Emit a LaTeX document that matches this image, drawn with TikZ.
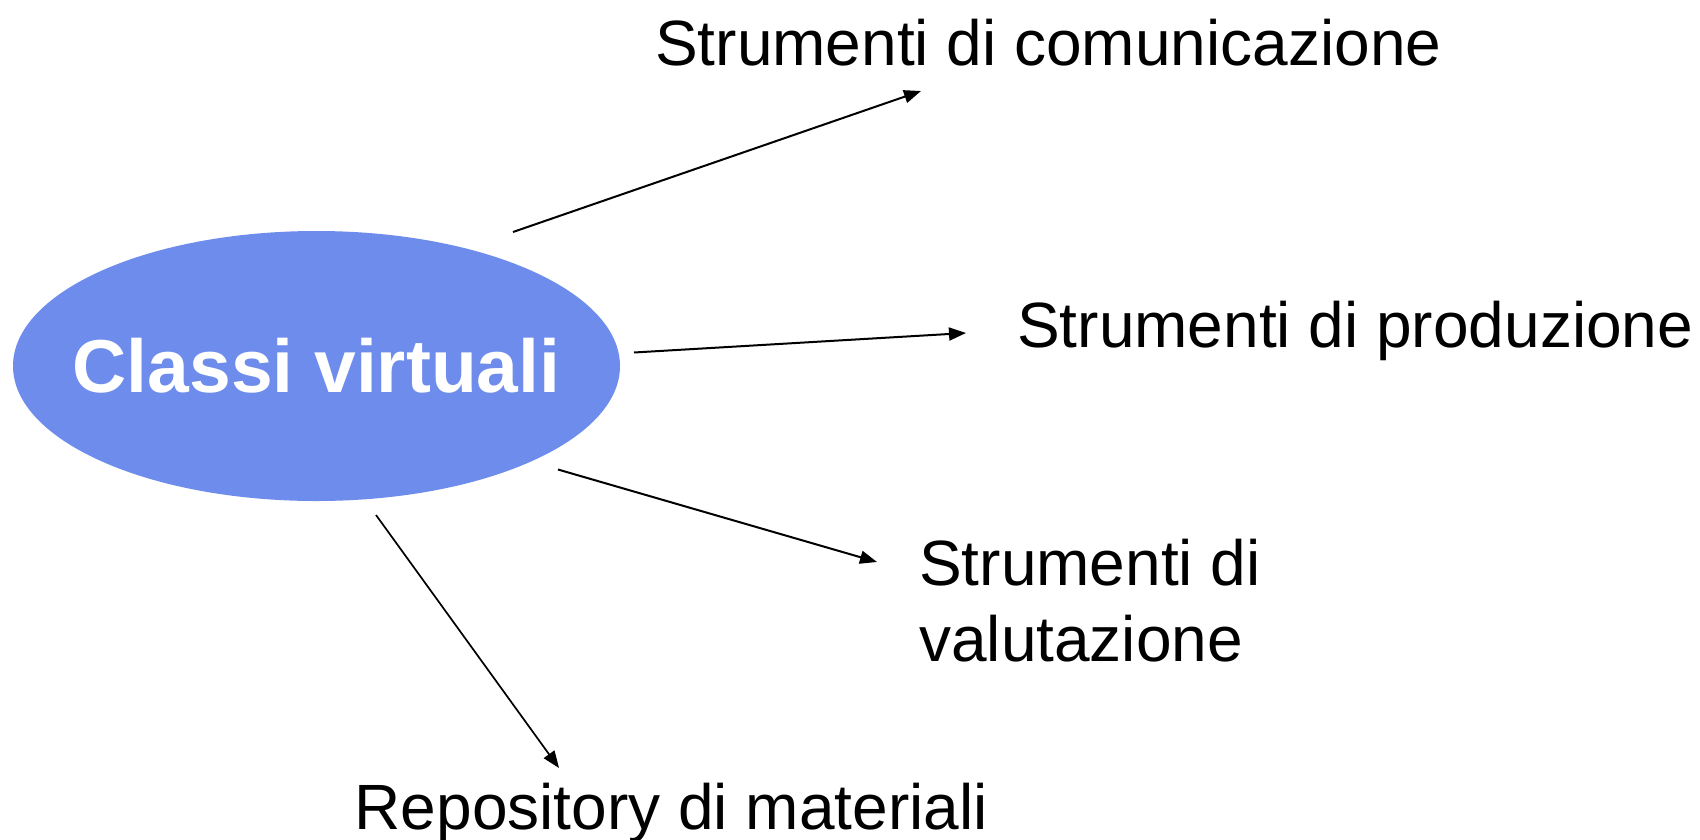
\documentclass[tikz,border=0pt]{standalone}
\usepackage{fontspec}
\setmainfont{Liberation Sans}
\usetikzlibrary{arrows.meta,shapes.geometric}
\definecolor{ellblue}{RGB}{110,140,236}
\tikzset{
  lbl/.style={anchor=base west, inner sep=0pt, font=\fontsize{64}{76}\selectfont, align=left},
  conn/.style={line width=2pt, -{Triangle[length=17pt,width=13pt]}},
}
\begin{document}
\begin{tikzpicture}[x=1pt,y=-1pt]
\useasboundingbox (0,0) rectangle (1700,839);
\fill[white] (0,0) rectangle (1700,839);
% central ellipse
\node[ellipse, fill=ellblue, minimum width=607pt, minimum height=270pt, inner sep=0pt] (cv) at (316.5,366) {};
\path (cv.center) ++(0,26.5) node[anchor=base, inner sep=0pt, text=white, font=\fontsize{75}{90}\selectfont\bfseries] (cvt) {Classi virtuali};
% labels
\node[lbl] (com) at (655,65) {Strumenti di comunicazione};
\node[lbl] (prod) at (1017,347) {Strumenti di produzione};
\node[lbl] (val) at (919,661.5) {Strumenti di\\valutazione};
\node[lbl] (rep) at (354.5,829) {Repository di materiali};
% connector end points
\coordinate (s1) at (513,232);   \coordinate (e1) at (921,91);
\coordinate (s2) at (634,352.5); \coordinate (e2) at (966,333);
\coordinate (s3) at (558,469.5); \coordinate (e3) at (877,562);
\coordinate (s4) at (376,515);   \coordinate (e4) at (559,768);
\draw[conn] (s1) -- (e1);
\draw[conn] (s2) -- (e2);
\draw[conn] (s3) -- (e3);
\draw[conn, line width=1.7pt] (s4) -- (e4);
\end{tikzpicture}
\end{document}
